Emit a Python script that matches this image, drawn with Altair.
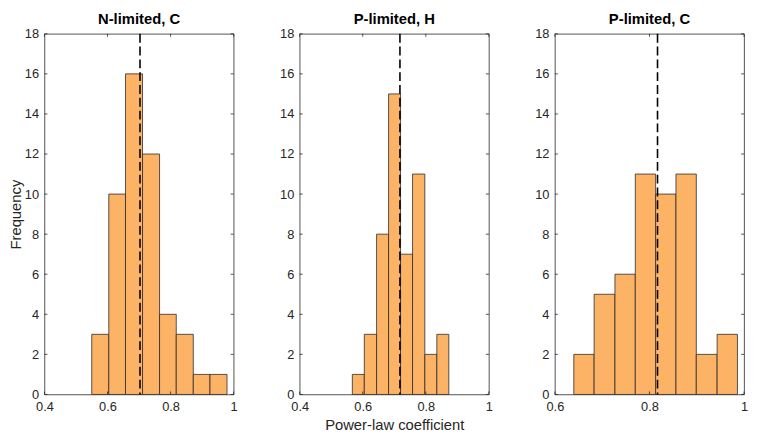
import altair as alt
import pandas as pd

titles = ["N-limited, C", "P-limited, H", "P-limited, C"]
edges_n_c = [0.550, 0.604, 0.657, 0.711, 0.765, 0.818, 0.872, 0.925, 0.979]
counts_n_c = [3, 10, 16, 12, 4, 3, 1, 1]
edges_p_h = [0.567, 0.605, 0.644, 0.682, 0.720, 0.758, 0.797, 0.835, 0.873]
counts_p_h = [1, 3, 8, 15, 7, 11, 2, 3]
edges_p_c = [0.640, 0.683, 0.727, 0.770, 0.813, 0.856, 0.899, 0.943, 0.986]
counts_p_c = [2, 5, 6, 11, 10, 11, 2, 3]
medians = [0.703, 0.718, 0.817]
x_domains = [[0.4, 1.0], [0.4, 1.0], [0.6, 1.0]]
x_ticks = [[0.4, 0.6, 0.8, 1.0], [0.4, 0.6, 0.8, 1.0], [0.6, 0.8, 1.0]]
y_ticks = list(range(0, 19, 2))

W, H = 192, 366
FONT = "Liberation Sans"
AX = "#262626"


def panel(i, edges, counts):
    df = pd.DataFrame({"lo": edges[:-1], "hi": edges[1:], "n": counts})
    xs = alt.Scale(domain=x_domains[i], nice=False, zero=False)
    ys = alt.Scale(domain=[0, 18], nice=False)
    xaxis = alt.Axis(values=x_ticks[i], format="~g", labelFlush=False,
                     title="Power-law coefficient" if i == 1 else None)
    yaxis = alt.Axis(values=y_ticks, title="Frequency" if i == 0 else None)
    bars = alt.Chart(df).mark_bar(fill="#FDB366", stroke="#2a2a2a", strokeWidth=0.8).encode(
        x=alt.X("lo:Q", scale=xs, axis=xaxis),
        x2="hi:Q",
        y=alt.Y("n:Q", scale=ys, axis=yaxis),
        y2=alt.datum(0),
    )
    med = alt.Chart(pd.DataFrame({"m": [medians[i]]})).mark_rule(
        color="black", strokeDash=[9, 4], strokeWidth=1.6
    ).encode(x=alt.X("m:Q", scale=xs))
    ydf = pd.DataFrame({"v": y_ticks})
    xdf = pd.DataFrame({"v": x_ticks[i]})
    lt = alt.Chart(ydf).mark_rule(color=AX, strokeWidth=0.8).encode(
        y=alt.Y("v:Q", scale=ys), x=alt.value(0), x2=alt.value(3))
    rt = alt.Chart(ydf).mark_rule(color=AX, strokeWidth=0.8).encode(
        y=alt.Y("v:Q", scale=ys), x=alt.value(W - 3), x2=alt.value(W))
    bt = alt.Chart(xdf).mark_rule(color=AX, strokeWidth=0.8).encode(
        x=alt.X("v:Q", scale=xs), y=alt.value(H - 3), y2=alt.value(H))
    tt = alt.Chart(xdf).mark_rule(color=AX, strokeWidth=0.8).encode(
        x=alt.X("v:Q", scale=xs), y=alt.value(0), y2=alt.value(3))
    return alt.layer(bars, med, lt, rt, bt, tt).properties(
        width=W, height=H,
        title=alt.Title(titles[i], fontSize=15, fontWeight="bold", font=FONT,
                        color="black", offset=1),
    )


chart = alt.hconcat(
    panel(0, edges_n_c, counts_n_c),
    panel(1, edges_p_h, counts_p_h),
    panel(2, edges_p_c, counts_p_c),
    spacing=41,
).properties(
    padding={"left": 0, "top": 0, "right": 0, "bottom": 0}
).configure_view(
    stroke=AX, strokeWidth=0.8
).configure_axis(
    domain=False, grid=False, tickSize=0, labelFont=FONT, labelFontSize=13,
    labelColor=AX, titleFont=FONT, titleFontSize=15, titleFontWeight="normal",
    titleColor=AX, labelPadding=6,
).configure_axisY(
    titlePadding=1,
).configure_axisX(
    titlePadding=5,
)

chart.save("out.html", embed_options={"renderer": "svg", "actions": False})
